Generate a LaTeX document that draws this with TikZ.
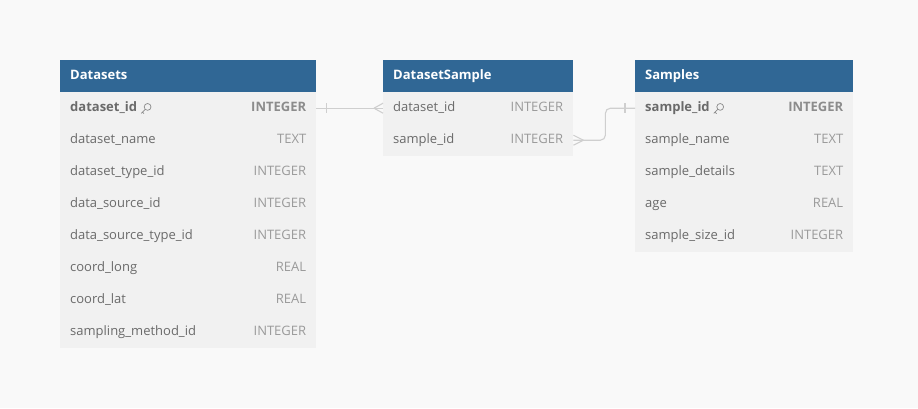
\documentclass[tikz,border=0pt]{standalone}
\usepackage{fontspec}
\setmainfont{Open Sans}
\definecolor{bgcol}{HTML}{F9F9F9}
\definecolor{hdrblue}{HTML}{306795}
\definecolor{rowgray}{HTML}{F1F1F1}
\definecolor{nametxt}{HTML}{6A6A6A}
\definecolor{typetxt}{HTML}{9A9A9A}
\definecolor{keytype}{HTML}{8C8C8C}
\definecolor{keyicn}{HTML}{8A8A8A}
\definecolor{conncol}{HTML}{CFCFCF}
\begin{document}
\begin{tikzpicture}[x=1pt,y=-1pt, font=\fontsize{13}{15}\selectfont,
  hdr/.style={fill=hdrblue, minimum height=32pt, inner sep=0pt, anchor=north west},
  htxt/.style={anchor=west, text=white, font=\fontsize{13}{15}\selectfont\bfseries, inner sep=0pt, text height=9.5pt, text depth=3pt},
  rowbox/.style={fill=rowgray, minimum height=32pt, inner sep=0pt, anchor=north west},
  fname/.style={anchor=west, text=nametxt, inner sep=0pt, text height=9.5pt, text depth=3pt},
  ftype/.style={anchor=east, text=typetxt, inner sep=0pt, text height=9.5pt, text depth=3pt},
  kname/.style={fname, font=\fontsize{13}{15}\selectfont\bfseries},
  ktype/.style={ftype, text=keytype, font=\fontsize{13}{15}\selectfont\bfseries},
  conn/.style={draw=conncol, line width=1.1pt},
  keyicon/.pic={\draw[keyicn, line width=0.7pt] (1.8,-1.8) circle (3.4pt);
    \draw[keyicn, line width=0.7pt] (-0.6,0.6) -- (-4.6,4.6) (-3.4,3.4) -- (-1.8,5);}
]
\fill[bgcol] (0,0) rectangle (918,408);
\useasboundingbox (0,0) rectangle (918,408);

% ---------- Datasets ----------
\node[hdr, minimum width=256pt] (ds) at (60,60) {};
\node[htxt] (ds-title) at ([xshift=10pt]ds.west) {Datasets};
\node[rowbox, minimum width=256pt] (ds-1) at (60,92) {};
\node[kname] (ds-1n) at ([xshift=10pt]ds-1.west) {dataset\_id};
\pic at ([xshift=8.5pt,yshift=-0.5pt]ds-1n.east) {keyicon};
\node[ktype] (ds-1t) at ([xshift=-10pt]ds-1.east) {INTEGER};
\foreach \i/\n/\t in {2/dataset\_name/TEXT, 3/dataset\_type\_id/INTEGER, 4/data\_source\_id/INTEGER,
  5/data\_source\_type\_id/INTEGER, 6/coord\_long/REAL, 7/coord\_lat/REAL, 8/sampling\_method\_id/INTEGER}{
  \node[rowbox, minimum width=256pt] (ds-\i) at (60,{92+32*(\i-1)}) {};
  \node[fname] (ds-\i n) at ([xshift=10pt]ds-\i.west) {\n};
  \node[ftype] (ds-\i t) at ([xshift=-10pt]ds-\i.east) {\t};
}

% ---------- DatasetSample ----------
\node[hdr, minimum width=190pt] (dss) at (383,60) {};
\node[htxt] (dss-title) at ([xshift=10pt]dss.west) {DatasetSample};
\foreach \i/\n/\t in {1/dataset\_id/INTEGER, 2/sample\_id/INTEGER}{
  \node[rowbox, minimum width=190pt] (dss-\i) at (383,{92+32*(\i-1)}) {};
  \node[fname] (dss-\i n) at ([xshift=10pt]dss-\i.west) {\n};
  \node[ftype] (dss-\i t) at ([xshift=-10pt]dss-\i.east) {\t};
}

% ---------- Samples ----------
\node[hdr, minimum width=218pt] (sm) at (635,60) {};
\node[htxt] (sm-title) at ([xshift=10pt]sm.west) {Samples};
\node[rowbox, minimum width=218pt] (sm-1) at (635,92) {};
\node[kname] (sm-1n) at ([xshift=10pt]sm-1.west) {sample\_id};
\pic at ([xshift=8.5pt,yshift=-0.5pt]sm-1n.east) {keyicon};
\node[ktype] (sm-1t) at ([xshift=-10pt]sm-1.east) {INTEGER};
\foreach \i/\n/\t in {2/sample\_name/TEXT, 3/sample\_details/TEXT, 4/age/REAL, 5/sample\_size\_id/INTEGER}{
  \node[rowbox, minimum width=218pt] (sm-\i) at (635,{92+32*(\i-1)}) {};
  \node[fname] (sm-\i n) at ([xshift=10pt]sm-\i.west) {\n};
  \node[ftype] (sm-\i t) at ([xshift=-10pt]sm-\i.east) {\t};
}

% ---------- connectors ----------
\draw[conn] (ds-1.east) -- (dss-1.west);
\draw[conn] ([xshift=10pt,yshift=5pt]ds-1.east) -- ([xshift=10pt,yshift=-5pt]ds-1.east);
\draw[conn] ([xshift=-9pt]dss-1.west) -- ([yshift=5pt]dss-1.west);
\draw[conn] ([xshift=-9pt]dss-1.west) -- ([yshift=-5pt]dss-1.west);

\draw[conn, rounded corners=5pt] (dss-2.east) -- ([xshift=32pt]dss-2.east) |- (sm-1.west);
\draw[conn] ([xshift=10pt]dss-2.east) -- ([yshift=5pt]dss-2.east);
\draw[conn] ([xshift=10pt]dss-2.east) -- ([yshift=-5pt]dss-2.east);
\draw[conn] ([xshift=-10pt,yshift=5pt]sm-1.west) -- ([xshift=-10pt,yshift=-5pt]sm-1.west);
\end{tikzpicture}
\end{document}
